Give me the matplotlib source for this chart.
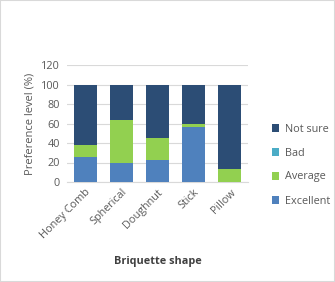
import numpy as np
import matplotlib.pyplot as plt
from matplotlib.patches import Rectangle

shapes = ["Honey Comb", "Spherical", "Doughnut", "Stick", "Pillow"]
excellent = [26, 19, 23, 56, 0]
average = [12, 45, 22, 4, 13]
bad = [0, 0, 0, 0, 0]
not_sure = [62, 36, 55, 40, 87]

colors = {"Excellent": "#4f81bd", "Average": "#92d050",
          "Bad": "#4bacc6", "Not sure": "#2c4d75"}

plt.rcParams['font.family'] = ['Open Sans', 'DejaVu Sans']
fig = plt.figure(figsize=(3.35, 2.82), dpi=100)
fig.patches.append(Rectangle((0, 0), 1, 1, transform=fig.transFigure,
                             fill=False, edgecolor="#d9d9d9", lw=1.5))
ax = fig.add_axes([67/335, 1-182/282, 181/335, (182-65)/282])

x = np.arange(len(shapes))
w = 0.64
b = np.zeros(len(shapes))
series = [("Excellent", excellent), ("Average", average),
          ("Bad", bad), ("Not sure", not_sure)]
handles = {}
for name, vals in series:
    h = ax.bar(x, vals, w, bottom=b, color=colors[name], zorder=3)
    handles[name] = h
    b += np.array(vals)

ax.set_xlim(-0.5, len(shapes) - 0.5)
ax.set_ylim(0, 120)
ax.set_yticks(range(0, 121, 20))
ax.yaxis.grid(True, color="#d9d9d9", lw=0.8, zorder=0)
for s in ["top", "right", "left"]:
    ax.spines[s].set_visible(False)
ax.spines["bottom"].set_color("#d9d9d9")
ax.tick_params(axis="both", length=0, labelsize=7.8, colors="#595959")
ax.tick_params(axis="y", pad=5)
ax.set_xticks(x)
ax.set_xticklabels(shapes, rotation=45, ha="right", rotation_mode="anchor")
ax.set_ylabel("Preference level (%)", fontsize=8, color="#595959")
ax.set_xlabel("Briquette shape", fontsize=7.8, color="#404040",
              fontweight="bold", labelpad=11)

order = ["Not sure", "Bad", "Average", "Excellent"]
leg = fig.legend([handles[n] for n in order], order, loc="center left",
                 bbox_to_anchor=(262/335, 1-165/282), frameon=False,
                 fontsize=7.8, handlelength=0.7, handleheight=0.7,
                 labelspacing=1.2, handletextpad=0.5)
for t in leg.get_texts():
    t.set_color("#595959")

fig.savefig("out.png", dpi=100)
